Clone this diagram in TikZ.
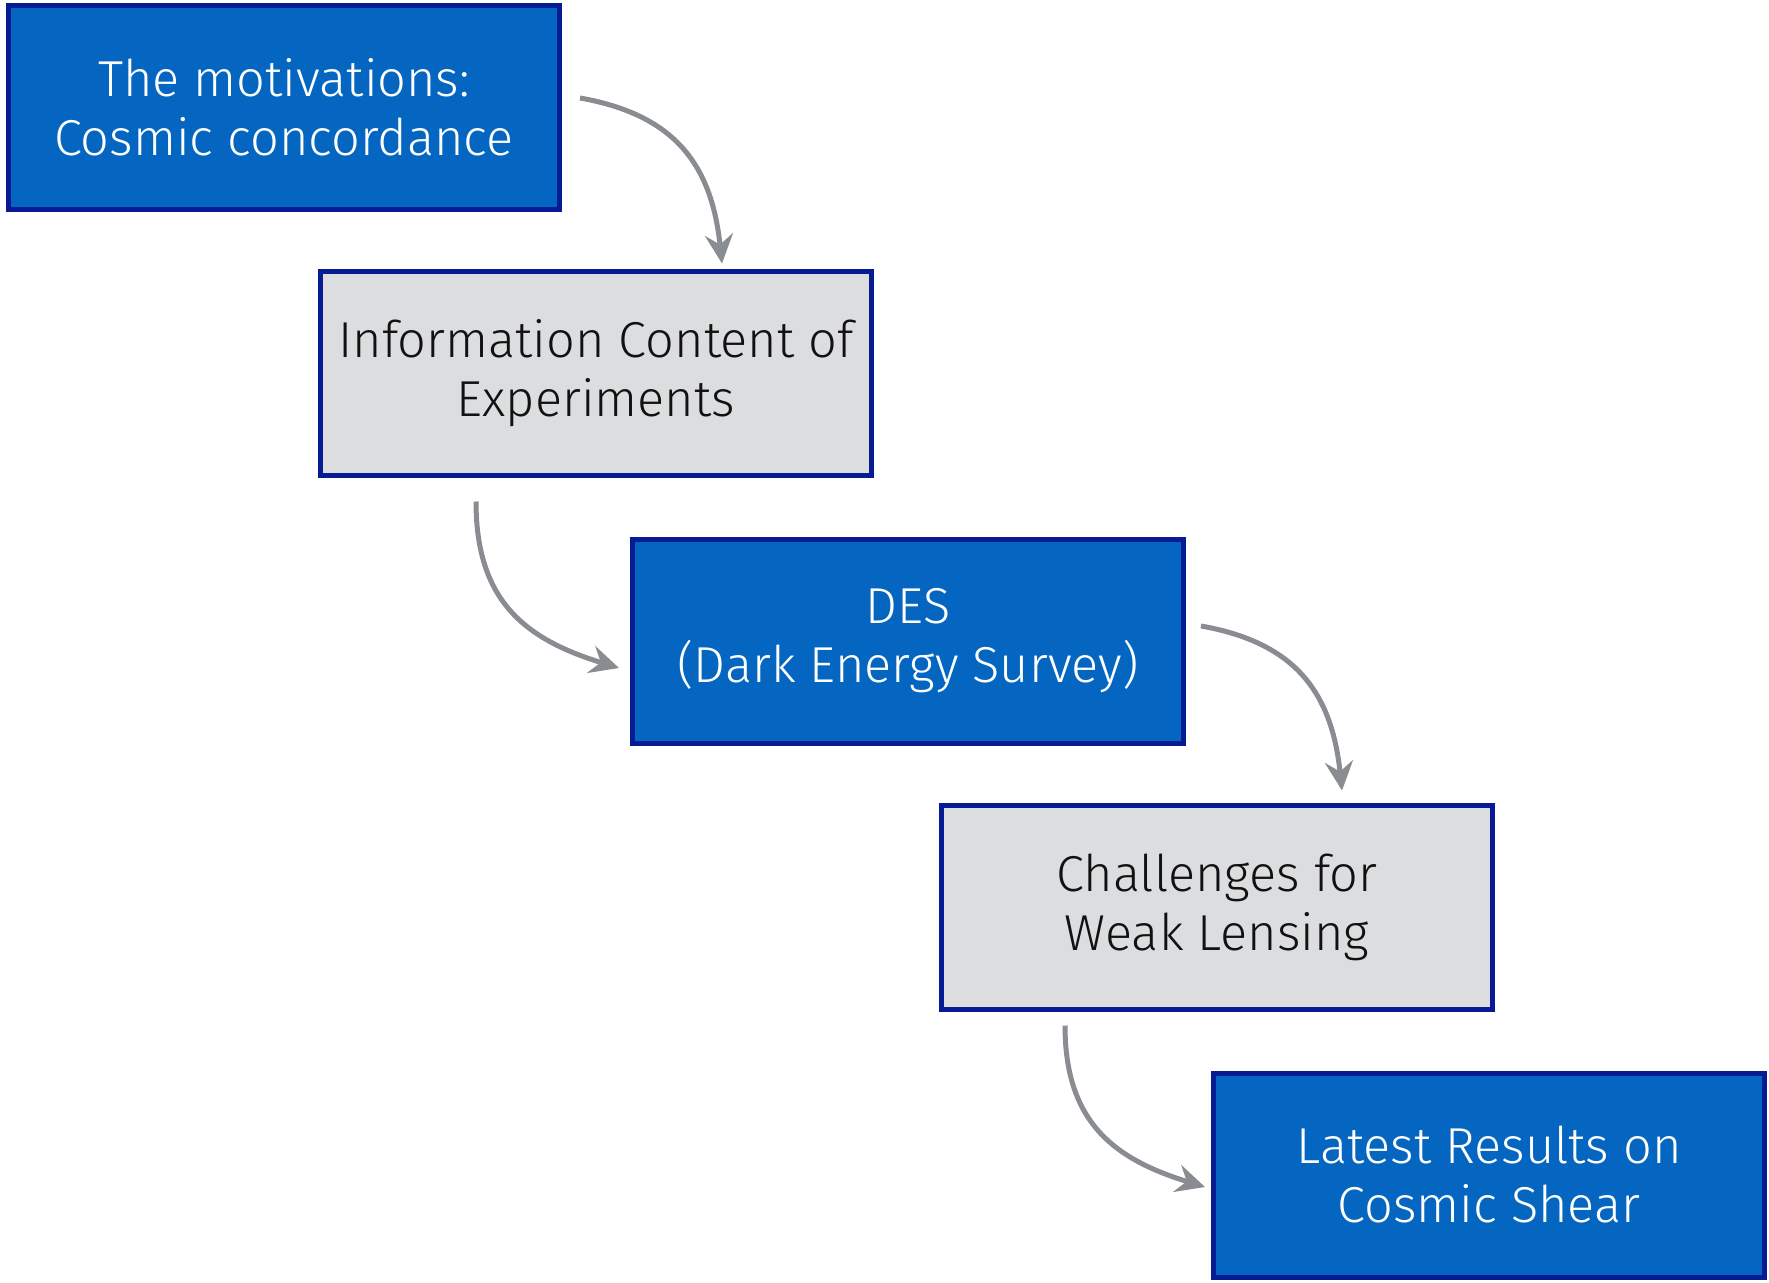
\documentclass[tikz,border=0pt]{standalone}
\usepackage{fontspec}
\setmainfont{Fira Sans Light}
\usetikzlibrary{arrows.meta,calc}
\definecolor{boxblue}{HTML}{0466C0}
\definecolor{boxedge}{HTML}{061B94}
\definecolor{boxgray}{HTML}{DCDDDF}
\definecolor{arrowgray}{HTML}{898C90}
\definecolor{darktext}{HTML}{111111}
\begin{document}
\begin{tikzpicture}[x=1pt,y=1pt,
  stage/.style={draw=boxedge, line width=5pt, minimum width=551pt, minimum height=204pt,
    align=center, inner sep=0pt, font=\fontsize{50.5}{59}\selectfont},
  bluestage/.style={stage, fill=boxblue, text=white},
  graystage/.style={stage, fill=boxgray, text=darktext},
  flow/.style={draw=arrowgray, line width=5pt, looseness=1.15,
    -{Stealth[length=29pt,width=28pt,inset=10pt]}}]
\useasboundingbox (0,0) rectangle (1769,-1282);

% the five stages, stepping down to the right
\node[bluestage] (mot) at (284,-107) {The motivations:\\Cosmic concordance};
\node[graystage] (info) at (596,-373) {Information Content of\\Experiments};
\node[bluestage] (des) at (908,-641) {DES\\(Dark Energy Survey)};
\node[graystage] (chal) at (1217,-907) {Challenges for\\Weak Lensing};
\node[bluestage] (res) at (1489,-1175) {Latest Results on\\Cosmic Shear};

% curved links between consecutive stages
\draw[flow] ($(mot.east)+(18,9)$) to[out=-10,in=96] ($(info.north)+(126,5)$);
\draw[flow] ($(info.south)+(-120,-24)$) to[out=-90,in=163] ($(des.west)+(-11,-27)$);
\draw[flow] ($(des.east)+(15,15)$) to[out=-10,in=96] ($(chal.north)+(125,12)$);
\draw[flow] ($(chal.south)+(-152,-14)$) to[out=-90,in=163] ($(res.west)+(-6,-12)$);
\end{tikzpicture}
\end{document}
